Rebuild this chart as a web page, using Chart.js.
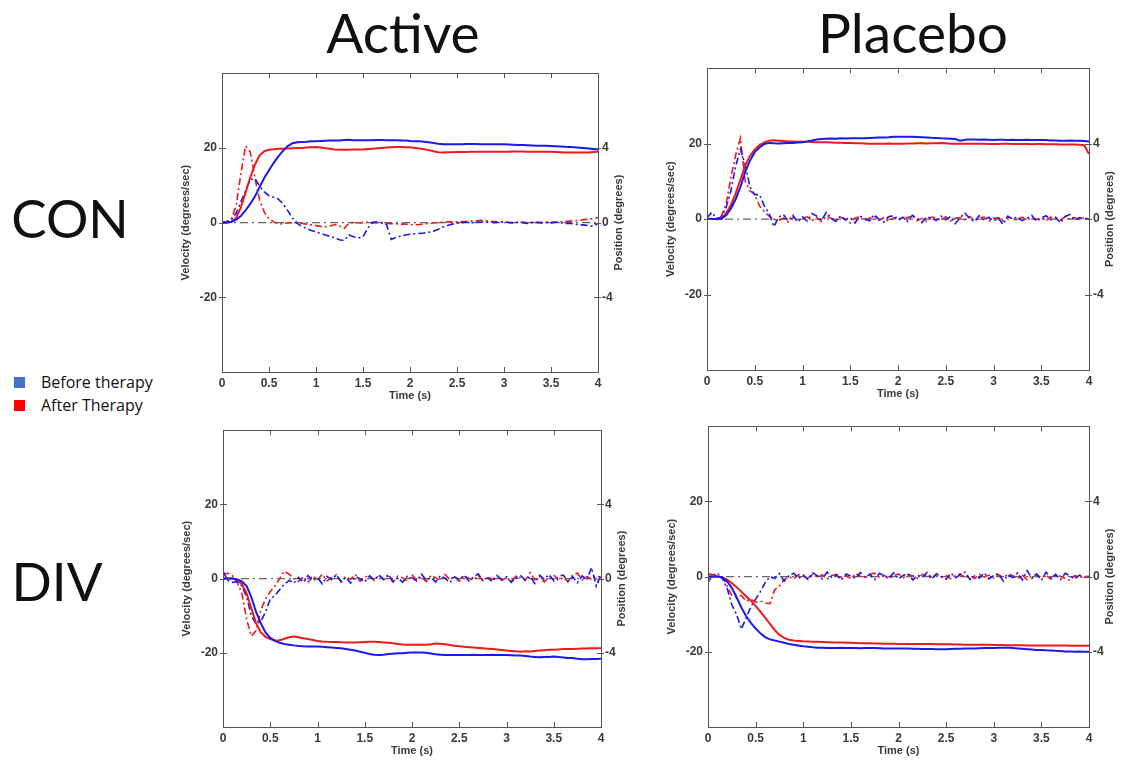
<!DOCTYPE html>
<html>
<head>
<meta charset="utf-8">
<script src="https://cdn.jsdelivr.net/npm/chart.js@4.4.1/dist/chart.umd.min.js"></script>
<style>
  body { margin: 0; background: #fff; width: 1128px; height: 765px; overflow: hidden; position: relative; font-family: 'Lato', sans-serif; }
  canvas { position: absolute; }
  .big { position: absolute; transform: translate(-50%, -50%); font-weight: 400; color: #111; white-space: nowrap; line-height: 1; }
  .leg { position: absolute; font-size: 16px; color: #111; font-family: 'Open Sans', sans-serif; line-height: 1; }
  .sq { position: absolute; width: 11px; height: 11px; }
</style>
</head>
<body>
<div class="big" style="left:403px;top:32px;font-size:55px">Active</div>
<div class="big" style="left:913px;top:32px;font-size:55px">Placebo</div>
<div class="big" style="left:70px;top:217px;font-size:53px">CON</div>
<div class="big" style="left:57px;top:580px;font-size:53px">DIV</div>
<div class="sq" style="left:14px;top:377px;background:#4472C4"></div>
<div class="sq" style="left:14px;top:400px;background:#FF0000"></div>
<div class="leg" style="left:41px;top:374px">Before therapy</div>
<div class="leg" style="left:41px;top:397px">After Therapy</div>

<canvas id="activeCon" width="464" height="347" style="left:170px;top:61px"></canvas>
<canvas id="placeboCon" width="470" height="350" style="left:655px;top:56px"></canvas>
<canvas id="activeDiv" width="466" height="345" style="left:171px;top:418px"></canvas>
<canvas id="placeboDiv" width="469" height="349" style="left:656px;top:414px"></canvas>

<script>
// tiempo (s)
const time = [
  0, 0.05, 0.1, 0.15, 0.2, 0.25, 0.3, 0.35, 0.4, 0.45,
  0.5, 0.55, 0.6, 0.65, 0.7, 0.75, 0.8, 0.85, 0.9, 0.95,
  1, 1.05, 1.1, 1.15, 1.2, 1.25, 1.3, 1.35, 1.4, 1.45,
  1.5, 1.55, 1.6, 1.65, 1.7, 1.75, 1.8, 1.85, 1.9, 1.95,
  2, 2.05, 2.1, 2.15, 2.2, 2.25, 2.3, 2.35, 2.4, 2.45,
  2.5, 2.55, 2.6, 2.65, 2.7, 2.75, 2.8, 2.85, 2.9, 2.95,
  3, 3.05, 3.1, 3.15, 3.2, 3.25, 3.3, 3.35, 3.4, 3.45,
  3.5, 3.55, 3.6, 3.65, 3.7, 3.75, 3.8, 3.85, 3.9, 3.95,
  4
];
const xTicks = [0, 0.5, 1, 1.5, 2, 2.5, 3, 3.5, 4];
const velTicks = [-20, 0, 20];
const posTicks = [-4, 0, 4];
const zeroTime = [0, 4];
const zeroVel = [0, 0];

// ---- Active / CON ----
const activeConBeforePos = [
  0, 0, 0.05, 0.15, 0.35, 0.65, 1.0, 1.4, 1.9, 2.4,
  2.8, 3.2, 3.55, 3.85, 4.1, 4.25, 4.3, 4.32, 4.33, 4.35,
  4.36, 4.37, 4.38, 4.39, 4.4, 4.4, 4.42, 4.43, 4.41, 4.41,
  4.41, 4.41, 4.41, 4.42, 4.42, 4.41, 4.41, 4.41, 4.4, 4.39,
  4.37, 4.36, 4.35, 4.33, 4.3, 4.26, 4.22, 4.2, 4.2, 4.2,
  4.2, 4.2, 4.21, 4.21, 4.21, 4.2, 4.2, 4.2, 4.2, 4.2,
  4.19, 4.18, 4.17, 4.16, 4.15, 4.14, 4.13, 4.12, 4.12, 4.11,
  4.1, 4.09, 4.08, 4.06, 4.05, 4.03, 4.01, 3.99, 3.97, 3.94,
  3.91
];
const activeConAfterPos = [
  0, 0, 0.05, 0.25, 0.8, 1.6, 2.4, 3.1, 3.6, 3.82,
  3.9, 3.93, 3.95, 3.96, 3.97, 3.98, 4.0, 4.0, 4.02, 4.04,
  4.05, 4.02, 3.98, 3.95, 3.92, 3.9, 3.9, 3.9, 3.91, 3.91,
  3.92, 3.94, 3.96, 3.98, 4.0, 4.02, 4.04, 4.05, 4.05, 4.04,
  4.03, 4.0, 3.97, 3.93, 3.88, 3.82, 3.77, 3.76, 3.77, 3.77,
  3.78, 3.78, 3.78, 3.79, 3.79, 3.8, 3.8, 3.8, 3.8, 3.8,
  3.8, 3.8, 3.81, 3.81, 3.81, 3.8, 3.8, 3.8, 3.8, 3.8,
  3.79, 3.78, 3.77, 3.76, 3.76, 3.75, 3.75, 3.75, 3.76, 3.78,
  3.8
];
const activeConBeforeVel = [
  0, 0.2, 0.8, 2.5, 5.5, 8.5, 11.5, 11.8, 9.8, 8.2,
  7.2, 6.8, 6.3, 5.0, 3.2, 1.2, -0.2, -1.0, -1.6, -2.1,
  -2.5, -2.9, -3.3, -3.7, -4.1, -4.6, -4.8, -3.3, -3.8, -4.1,
  -3.8, -1.5, 0.0, 0.2, 0.0, -0.5, -4.5, -4.0, -3.6, -3.3,
  -3.1, -3.0, -2.9, -2.8, -2.6, -2.3, -1.8, -1.2, -0.8, -0.4,
  -0.2, 0.0, 0.1, -0.1, 0.2, 0.1, 0.3, 0.2, 0.0, 0.1,
  0.2, 0.0, -0.1, 0.1, 0.0, -0.2, 0.1, 0.0, -0.1, 0.1,
  0.0, 0.1, 0.0, -0.2, -0.2, -0.4, -0.6, -0.6, -0.8, -1.0,
  -0.2
];
const activeConAfterVel = [
  0, 0.3, 1.0, 4.5, 13, 20.5, 19, 12, 6, 2.8,
  1.0, 0.2, -0.4, -0.3, -0.1, 0, 0, -0.2, -0.4, -0.6,
  -0.8, -1.0, -1.1, -0.9, -0.5, -0.9, -1.6, -0.1, 0, -0.1,
  0, 0.1, 0, -0.1, -0.2, -0.2, -0.3, -0.3, -0.4, -0.4,
  -0.5, -0.6, -0.5, -0.4, -0.2, -0.1, 0, 0.1, 0.2, 0.2,
  0.2, 0.3, 0.3, 0.4, 0.5, 0.6, 0.5, 0.3, 0.3, 0.2,
  0.2, 0.1, 0, 0.1, 0.1, 0, 0, 0.1, 0.1, 0,
  0, 0.1, 0.2, 0.3, 0.4, 0.5, 0.6, 0.8, 0.9, 1.1,
  1.3
];

// ---- Placebo / CON ----
const placeboConBeforePos = [
  0, 0, 0, 0, 0.2, 0.55, 1.05, 1.7, 2.5, 3.1,
  3.55, 3.8, 3.98, 4.04, 4.02, 4.01, 4.02, 4.03, 4.04, 4.06,
  4.08, 4.12, 4.17, 4.22, 4.25, 4.26, 4.27, 4.26, 4.28, 4.27,
  4.28, 4.28, 4.29, 4.29, 4.3, 4.31, 4.32, 4.33, 4.34, 4.36,
  4.37, 4.37, 4.37, 4.36, 4.35, 4.34, 4.33, 4.31, 4.3, 4.28,
  4.27, 4.26, 4.25, 4.16, 4.21, 4.22, 4.22, 4.21, 4.22, 4.21,
  4.2, 4.21, 4.21, 4.2, 4.21, 4.2, 4.2, 4.21, 4.2, 4.2,
  4.2, 4.19, 4.17, 4.17, 4.16, 4.16, 4.17, 4.16, 4.15, 4.14,
  4.12
];
const placeboConAfterPos = [
  0, 0, 0, 0.05, 0.3, 0.75, 1.35, 2.1, 2.85, 3.35,
  3.7, 3.92, 4.07, 4.16, 4.18, 4.16, 4.14, 4.12, 4.11, 4.1,
  4.1, 4.1, 4.09, 4.08, 4.08, 4.07, 4.06, 4.05, 4.05, 4.04,
  4.03, 4.02, 4.02, 4.01, 4.0, 4.0, 4.0, 4.0, 4.01, 4.0,
  4.0, 4.0, 4.01, 4.01, 4.02, 4.02, 4.01, 4.02, 4.02, 4.03,
  4.02, 4.0, 4.0, 3.99, 3.99, 4.0, 4.0, 3.99, 3.99, 3.98,
  3.98, 3.98, 3.99, 3.99, 3.98, 3.98, 3.98, 3.98, 3.97, 3.98,
  3.98, 3.97, 3.97, 3.97, 3.96, 3.96, 3.96, 3.95, 3.94, 3.92,
  3.45
];
const placeboConBeforeVel = [
  0.3, 1.8, 0.2, 0.5, 3.0, 7.5, 14.0, 18.5, 14.5, 8.5,
  6.5, 6.5, 3.5, 1.5, -2.0, 0.5, 1.2, -0.5, 1.0, -0.8,
  0.6, -0.5, 1.5, 0.8, -0.3, 1.8, 0.2, -0.6, 0.9, -0.2,
  0.4, -1.0, 0.8, 0.3, -0.5, 1.2, 0.0, -0.8, 0.6, 0.9,
  -0.3, 0.5, -0.6, 1.0, 0.2, -0.9, 0.6, 0.3, -0.4, 0.8,
  -0.2, 0.7, -1.2, 0.4, 1.6, 0.2, -0.7, 0.9, -0.3, 0.5,
  -0.5, 0.3, -1.4, 0.8, 0.0, 0.6, -0.4, 0.2, 1.0, -0.6,
  0.3, 0.9, -0.2, 0.5, -1.0, 0.7, 1.2, -0.3, 0.4, 0.1,
  0.2
];
const placeboConAfterVel = [
  0.0, 0.2, -0.3, 0.8, 4.0, 11.0, 17.0, 21.5, 10.0, 7.5,
  6.5, 3.5, 2.0, 0.8, 0.0, -0.5, 0.3, -0.8, 0.5, -0.4,
  0.2, 0.6, -0.3, 0.4, -0.6, 0.8, 0.2, -0.4, 0.5, -0.2,
  -1.0, 0.3, 0.6, -0.5, 0.2, 0.7, -0.3, 0.4, -0.6, 0.3,
  0.5, -0.2, 0.4, 0.9, -0.4, 0.2, -0.6, 0.5, 0.3, -0.3,
  0.6, -0.5, 0.2, 0.4, -0.2, 0.7, -0.4, 0.3, 0.5, -0.6,
  0.2, 0.4, -0.5, 0.6, 0.1, -0.3, 0.5, -0.2, 0.4, -0.1,
  0.3, -0.4, 0.5, 0.2, -0.3, 0.6, 0.0, 0.4, -0.2, 0.3,
  0.0
];

// ---- Active / DIV ----
const activeDivBeforePos = [
  0, 0, 0, -0.05, -0.15, -0.4, -1.0, -1.8, -2.4, -2.9,
  -3.2, -3.36, -3.46, -3.52, -3.56, -3.6, -3.63, -3.65, -3.66, -3.66,
  -3.66, -3.68, -3.7, -3.72, -3.74, -3.76, -3.8, -3.84, -3.88, -3.94,
  -4.0, -4.06, -4.1, -4.12, -4.1, -4.07, -4.05, -4.03, -4.02, -4.0,
  -3.98, -3.98, -3.98, -4.0, -4.04, -4.08, -4.1, -4.12, -4.12, -4.12,
  -4.12, -4.12, -4.12, -4.11, -4.12, -4.12, -4.12, -4.11, -4.12, -4.12,
  -4.12, -4.13, -4.14, -4.15, -4.17, -4.2, -4.22, -4.24, -4.22, -4.22,
  -4.2, -4.22, -4.25, -4.28, -4.28, -4.32, -4.35, -4.35, -4.34, -4.33,
  -4.32
];
const activeDivAfterPos = [
  0, 0, 0, -0.06, -0.3, -0.8, -1.6, -2.4, -2.9, -3.14,
  -3.26, -3.34, -3.32, -3.24, -3.16, -3.12, -3.16, -3.22, -3.26, -3.31,
  -3.36, -3.39, -3.41, -3.42, -3.42, -3.43, -3.44, -3.44, -3.44, -3.43,
  -3.42, -3.41, -3.4, -3.42, -3.44, -3.46, -3.48, -3.52, -3.55, -3.56,
  -3.56, -3.56, -3.57, -3.56, -3.54, -3.5, -3.51, -3.54, -3.58, -3.62,
  -3.65, -3.68, -3.7, -3.72, -3.74, -3.76, -3.78, -3.8, -3.82, -3.85,
  -3.88, -3.9, -3.92, -3.94, -3.92, -3.93, -3.9, -3.88, -3.86, -3.84,
  -3.84, -3.82, -3.8, -3.79, -3.79, -3.78, -3.77, -3.77, -3.76, -3.76,
  -3.76
];
const activeDivBeforeVel = [
  2.0, -0.5, -1.0, -0.8, -2.0, -5.0, -10.0, -12.3, -11.5, -9.0,
  -5.5, -4.5, -3.0, -1.5, -0.5, -1.2, 0.3, -1.0, 0.8, -0.6,
  0.2, -1.4, 0.6, -0.3, 1.0, -0.8, 0.4, -1.2, 0.5, 0.0,
  -0.9, 0.7, -0.4, 0.9, -0.2, 1.1, -0.7, 0.3, -1.0, 0.6,
  0.2, -0.6, 1.2, -0.4, 0.3, -0.9, 0.8, 0.1, -1.1, 0.5,
  -0.3, 0.9, -0.6, 0.4, 1.3, -0.5, 0.2, -0.8, 0.7, -0.2,
  0.5, -1.0, 0.3, 0.8, -0.4, 0.6, -1.3, 0.9, -0.2, 1.1,
  -0.6, 0.4, 1.0, -0.8, 0.5, -1.1, 0.7, -0.3, 3.0, -2.0,
  1.0
];
const activeDivAfterVel = [
  1.0, 1.5, 0.8, -1.0, -4.0, -11.0, -15.5, -14.0, -8.5, -5.5,
  -3.5, -2.0, 0.0, 2.0, 1.2, 0.0, -0.8, 0.5, -1.0, 0.8,
  -0.4, 1.2, -0.6, 0.3, 1.0, -0.9, 0.6, -0.2, 1.1, -0.7,
  0.4, 0.9, -0.5, 1.0, -0.3, 0.6, -1.0, 0.7, 0.2, -0.6,
  1.0, -0.4, 0.5, -0.8, 0.9, 0.2, -0.5, 1.1, -0.3, 0.6,
  -0.7, 0.8, 0.1, -0.4, 1.0, -0.6, 0.5, -0.2, 0.9, -0.5,
  0.3, -0.8, 0.7, 0.2, -0.5, 1.6, -0.3, 0.6, -0.9, 0.4,
  1.0, -0.5, 0.3, -0.8, 0.9, 1.5, -0.4, 0.6, -0.2, 0.8,
  0.3
];

// ---- Placebo / DIV ----
const placeboDivBeforePos = [
  0, 0, 0, -0.04, -0.24, -0.6, -1.1, -1.64, -2.1, -2.46,
  -2.76, -3.02, -3.22, -3.34, -3.4, -3.46, -3.52, -3.58, -3.62, -3.66,
  -3.7, -3.73, -3.76, -3.78, -3.79, -3.8, -3.8, -3.8, -3.79, -3.8,
  -3.8, -3.8, -3.81, -3.8, -3.8, -3.8, -3.81, -3.82, -3.82, -3.82,
  -3.82, -3.83, -3.83, -3.84, -3.84, -3.85, -3.85, -3.85, -3.86, -3.86,
  -3.86, -3.85, -3.84, -3.84, -3.83, -3.82, -3.82, -3.81, -3.8, -3.8,
  -3.8, -3.79, -3.78, -3.78, -3.8, -3.82, -3.84, -3.86, -3.88, -3.9,
  -3.9, -3.92, -3.93, -3.95, -3.96, -3.98, -3.99, -4.0, -3.99, -4.0,
  -4.0
];
const placeboDivAfterPos = [
  0, 0, 0, -0.04, -0.16, -0.34, -0.56, -0.8, -1.04, -1.28,
  -1.56, -1.86, -2.18, -2.52, -2.84, -3.1, -3.26, -3.36, -3.4, -3.42,
  -3.44, -3.45, -3.46, -3.47, -3.48, -3.49, -3.5, -3.5, -3.51, -3.52,
  -3.52, -3.53, -3.54, -3.55, -3.55, -3.56, -3.56, -3.57, -3.57, -3.57,
  -3.58, -3.58, -3.58, -3.58, -3.58, -3.58, -3.58, -3.59, -3.6, -3.6,
  -3.6, -3.6, -3.61, -3.61, -3.62, -3.62, -3.62, -3.63, -3.63, -3.63,
  -3.64, -3.64, -3.64, -3.65, -3.65, -3.65, -3.65, -3.66, -3.66, -3.66,
  -3.66, -3.66, -3.67, -3.67, -3.67, -3.67, -3.68, -3.68, -3.68, -3.68,
  -3.68
];
const placeboDivBeforeVel = [
  -1.5, 0.5, 0.3, -0.5, -3.0, -7.5, -10.0, -14.0, -11.0, -8.0,
  -6.0, -4.0, -1.6, 0.0, -0.5, 0.8, -1.2, 0.3, 0.9, -0.5,
  0.4, -0.8, 1.0, 0.2, -0.6, 1.2, -0.2, 0.5, -0.9, 0.7,
  0.1, -0.5, 1.1, -0.3, 0.6, -0.8, 0.9, 0.2, -0.4, 1.0,
  -0.6, 0.3, 0.8, -0.9, 0.4, -0.2, 1.1, -0.5, 0.6, 0.0,
  -0.7, 0.9, -0.3, 0.5, 1.2, -0.8, 0.2, -0.4, 1.0, -0.6,
  0.3, 0.8, -1.2, 0.5, -0.3, 1.0, -0.9, 1.6, -0.5, 0.7,
  -1.0, 1.2, -0.4, 0.6, -0.8, 0.9, 0.2, -0.6, 0.4, -0.2,
  0.1
];
const placeboDivAfterVel = [
  0.8, 0.5, 0.8, 0.0, -2.5, -5.0, -5.5, -5.0, -6.5, -6.0,
  -6.8, -6.5, -7.0, -7.2, -3.5, -2.5, -0.8, 0.0, -0.6, 0.5,
  0.2, -0.4, 0.7, -0.2, 0.5, -0.7, 0.3, 0.6, -0.3, 0.2,
  -0.5, 0.8, 0.1, -0.4, 0.6, 0.9, -0.2, 0.4, -0.6, 0.3,
  0.7, -0.3, 0.5, 0.2, -0.5, 0.6, 0.1, -0.4, 0.8, -0.2,
  0.3, -0.6, 0.4, 0.7, -0.3, 0.2, -0.5, 0.6, -0.1, 0.4,
  -0.4, 0.5, -0.2, 0.6, 0.3, -0.6, 0.4, -0.8, 0.2, 0.5,
  -0.3, 0.4, -0.7, 0.5, 0.1, -0.5, -1.0, 0.3, -0.2, 0.1,
  0.0
];

const BLUE = 'rgb(25,25,235)';
const RED = 'rgb(240,25,25)';
const AXIS = '#555';
const TXT = '#3a3a3a';
const DASHDOT = [7, 3, 2, 3];
const TICK_FONT = { size: 12, weight: 'bold', family: '"Liberation Sans", Arial' };

function pts(xs, ys) {
  return xs.map((t, i) => ({ x: t, y: ys[i] }));
}

// marco, ticks hacia dentro y titulos de ejes (estilo matlab)
const framePlugin = {
  id: 'frame',
  afterDraw(chart) {
    const { ctx, chartArea: a, scales } = chart;
    ctx.save();
    ctx.strokeStyle = AXIS;
    ctx.lineWidth = 1;
    ctx.strokeRect(Math.round(a.left) + 0.5, Math.round(a.top) + 0.5, Math.round(a.width), Math.round(a.height));
    ctx.beginPath();
    scales.x.ticks.forEach(t => {
      const px = Math.round(scales.x.getPixelForValue(t.value)) + 0.5;
      ctx.moveTo(px, a.top); ctx.lineTo(px, a.top + 5);
      ctx.moveTo(px, a.bottom); ctx.lineTo(px, a.bottom - 5);
    });
    scales.y.ticks.forEach(t => {
      const py = Math.round(scales.y.getPixelForValue(t.value)) + 0.5;
      ctx.moveTo(a.left - 3, py); ctx.lineTo(a.left + 4, py);
    });
    scales.y1.ticks.forEach(t => {
      const py = Math.round(scales.y1.getPixelForValue(t.value)) + 0.5;
      ctx.moveTo(a.right - 4, py); ctx.lineTo(a.right + 3, py);
    });
    ctx.stroke();

    ctx.fillStyle = TXT;
    ctx.font = 'bold 11px "Liberation Sans", Arial, sans-serif';
    ctx.textAlign = 'center';
    ctx.textBaseline = 'middle';
    const midY = (a.top + a.bottom) / 2;
    ctx.save();
    ctx.translate(a.left - 36, midY);
    ctx.rotate(-Math.PI / 2);
    ctx.fillText('Velocity (degrees/sec)', 0, 0);
    ctx.restore();
    ctx.save();
    ctx.translate(a.right + 21, midY);
    ctx.rotate(-Math.PI / 2);
    ctx.fillText('Position (degrees)', 0, 0);
    ctx.restore();
    ctx.fillText('Time (s)', (a.left + a.right) / 2, a.bottom + 24);
    ctx.restore();
  }
};

function makePanel(id, beforePos, afterPos, beforeVel, afterVel) {
  const ctx = document.getElementById(id).getContext('2d');
  return new Chart(ctx, {
    type: 'line',
    data: {
      datasets: [
        { label: 'Before position', data: pts(time, beforePos), yAxisID: 'y1', borderColor: BLUE, borderWidth: 2 },
        { label: 'After position', data: pts(time, afterPos), yAxisID: 'y1', borderColor: RED, borderWidth: 2 },
        { label: 'Before velocity', data: pts(time, beforeVel), yAxisID: 'y', borderColor: BLUE, borderWidth: 1.6, borderDash: DASHDOT },
        { label: 'After velocity', data: pts(time, afterVel), yAxisID: 'y', borderColor: RED, borderWidth: 1.6, borderDash: DASHDOT },
        { label: 'zero', data: pts(zeroTime, zeroVel), yAxisID: 'y', borderColor: '#666', borderWidth: 1.3, borderDash: [8, 4, 2, 4] }
      ]
    },
    options: {
      responsive: false,
      animation: false,
      layout: { padding: 0 },
      elements: { point: { radius: 0 }, line: { tension: 0 } },
      plugins: { legend: { display: false }, tooltip: { enabled: false } },
      scales: {
        x: {
          type: 'linear', min: 0, max: 4,
          afterBuildTicks: s => { s.ticks = xTicks.map(v => ({ value: v })); },
          afterFit: s => { s.height = 36; },
          border: { display: false },
          grid: { display: false, drawTicks: false },
          ticks: { color: TXT, padding: 4, font: TICK_FONT, callback: v => String(v) }
        },
        y: {
          position: 'left', min: -40, max: 40,
          afterBuildTicks: s => { s.ticks = velTicks.map(v => ({ value: v })); },
          afterFit: s => { s.width = 52; },
          border: { display: false },
          grid: { display: false, drawTicks: false },
          ticks: { color: TXT, padding: 5, font: TICK_FONT }
        },
        y1: {
          position: 'right', min: -8, max: 8,
          afterBuildTicks: s => { s.ticks = posTicks.map(v => ({ value: v })); },
          afterFit: s => { s.width = 36; },
          border: { display: false },
          grid: { display: false, drawTicks: false },
          ticks: { color: TXT, padding: 4, font: TICK_FONT }
        }
      }
    },
    plugins: [framePlugin]
  });
}

makePanel('activeCon', activeConBeforePos, activeConAfterPos, activeConBeforeVel, activeConAfterVel);
makePanel('placeboCon', placeboConBeforePos, placeboConAfterPos, placeboConBeforeVel, placeboConAfterVel);
makePanel('activeDiv', activeDivBeforePos, activeDivAfterPos, activeDivBeforeVel, activeDivAfterVel);
makePanel('placeboDiv', placeboDivBeforePos, placeboDivAfterPos, placeboDivBeforeVel, placeboDivAfterVel);
</script>
</body>
</html>
